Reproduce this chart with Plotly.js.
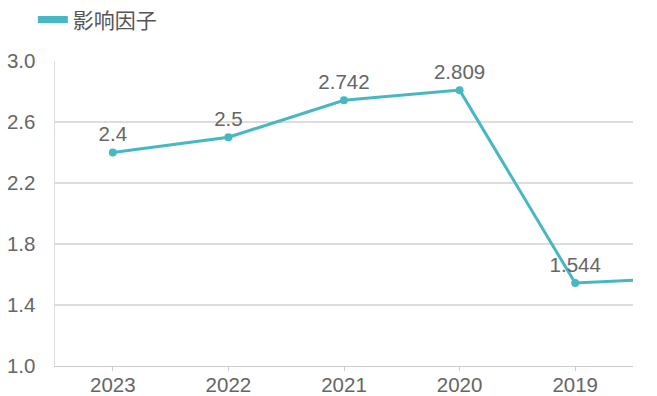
<!DOCTYPE html>
<html>
<head>
<meta charset="utf-8">
<script src="https://cdn.plot.ly/plotly-3.0.1.min.js"></script>
<style>html,body{margin:0;padding:0;background:#fff;}#chart{width:657px;height:396px;}</style>
</head>
<body>
<div id="chart"></div>
<script>
const years = ['2023', '2022', '2021', '2020', '2019', '2018'];
const impactFactor = [2.4, 2.5, 2.742, 2.809, 1.544, 1.58];
const valueLabels = ['2.4', '2.5', '2.742', '2.809', '1.544', ''];
const yTicks = [1.0, 1.4, 1.8, 2.2, 2.6, 3.0];
const yTickLabels = ['1.0', '1.4', '1.8', '2.2', '2.6', '3.0'];
const seriesName = '影响因子';

const teal = '#47b8c1';
const font = 'Liberation Sans, Arial, Noto Sans CJK SC, sans-serif';

const data = [
  {
    type: 'scatter', mode: 'lines+markers+text',
    x: years, y: impactFactor, text: valueLabels,
    textposition: 'top center',
    textfont: {size: 20.5, color: '#666', family: font},
    line: {color: teal, width: 3},
    marker: {color: teal, size: 8},
    cliponaxis: true,
    showlegend: false, name: seriesName, hoverinfo: 'none'
  },
  {
    type: 'scatter', mode: 'lines',
    x: [null], y: [null],
    line: {color: teal, width: 7},
    name: seriesName, showlegend: true, hoverinfo: 'none'
  }
];

const layout = {
  width: 657, height: 396,
  margin: {l: 55, r: 24, t: 61, b: 30, pad: 0},
  paper_bgcolor: '#fff', plot_bgcolor: '#fff',
  font: {family: font, color: '#666', size: 20},
  showlegend: true,
  legend: {
    xref: 'container', yref: 'container',
    x: 0.05, y: 0.95, xanchor: 'left', yanchor: 'middle',
    orientation: 'h', font: {size: 21, color: '#555', family: 'Noto Sans CJK SC, sans-serif'},
    itemwidth: 30, bgcolor: 'rgba(0,0,0,0)'
  },
  xaxis: {
    type: 'category', categoryorder: 'array', categoryarray: years,
    range: [-0.5, 4.5], fixedrange: true,
    showgrid: false, zeroline: false,
    showline: true, linecolor: '#ccc', linewidth: 1,
    ticks: 'outside', ticklen: 4, tickcolor: '#ccc',
    ticklabelstandoff: -4,
    tickfont: {size: 20.5, color: '#666', family: font}
  },
  yaxis: {
    range: [1.0, 3.0], fixedrange: true,
    tickmode: 'array', tickvals: yTicks, ticktext: yTickLabels,
    showgrid: true, gridcolor: '#ddd', gridwidth: 1.5,
    zeroline: false, showline: true, linecolor: '#ddd', linewidth: 1.5,
    ticks: '', ticklabelstandoff: 14,
    tickfont: {size: 20.5, color: '#666', family: font}
  }
};

Plotly.newPlot('chart', data, layout, {staticPlot: true, displayModeBar: false});
</script>
</body>
</html>
